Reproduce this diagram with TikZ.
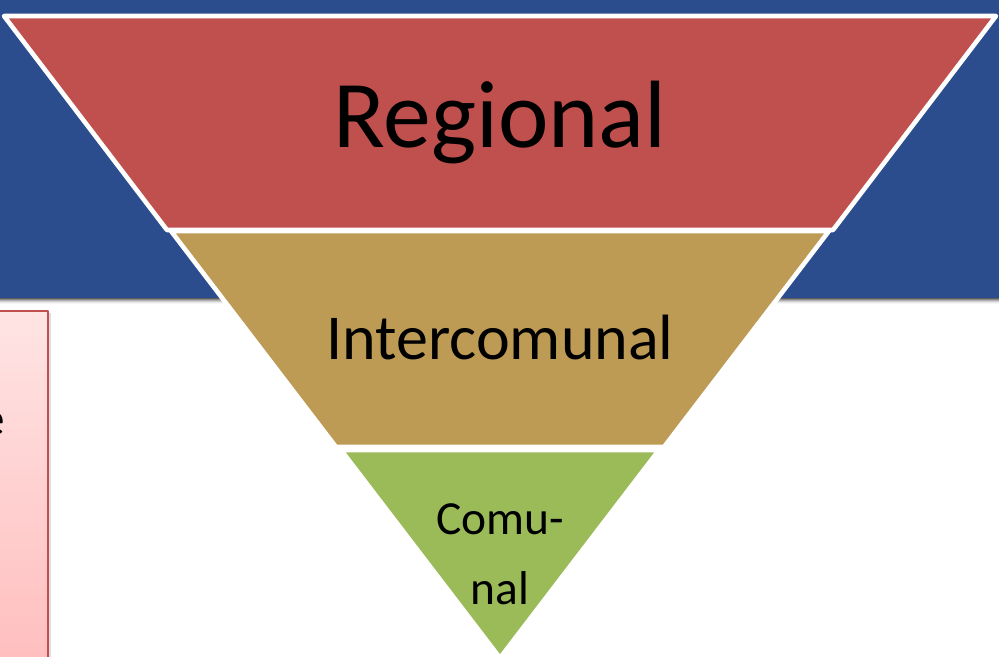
\documentclass[tikz,border=0pt]{standalone}
\usepackage{fontspec}
\setmainfont{Carlito}
\definecolor{bandblue}{RGB}{44,77,141}
\definecolor{regred}{RGB}{192,80,77}
\definecolor{intertan}{RGB}{190,155,84}
\definecolor{comgreen}{RGB}{155,187,89}
\definecolor{boxpinkA}{RGB}{255,228,228}
\definecolor{boxpinkB}{RGB}{255,190,190}
\tikzset{
  level/.style={draw=white, line width=1.3pt, line join=round},
  lbl/.style={text=black, inner sep=0pt}
}
\begin{document}
\begin{tikzpicture}[x=0.01cm, y=-0.01cm, line join=round, line cap=round]
    \def\W{999} \def\H{656} % size in px
    \clip (0,0) rectangle (\W,\H);
    \fill[white] (0,0) rectangle (\W,\H);
    % band and its shadow
    \foreach \i/\o in {1/0.30,2/0.22,3/0.15,4/0.10,5/0.06,6/0.03}
        \fill[black,opacity=\o] (0,298) rectangle (\W,298+\i);
    \fill[bandblue] (0,0) rectangle (\W,298);
    % left box
    \fill[black!25,opacity=0.5] (-10,313) rectangle (51,\H+10);
    \shade[top color=boxpinkA, bottom color=boxpinkB, draw=regred, line width=0.5pt]
        (-10,311) rectangle (48,\H+10);
    \node[lbl, anchor=east, font=\fontsize{14}{16}\selectfont] (boxtxt) at (6,424) {e};
    % the levels
    \filldraw[level, fill=regred] (4,16) -- (996,16) -- (833,230) -- (167,230) -- cycle;
    \filldraw[level, fill=intertan] (171,231) -- (829,231) -- (664,447) -- (336,447) -- cycle;
    \filldraw[level, fill=comgreen] (341,450) -- (659,450) -- (500,658) -- cycle;
    % labels
    \node[lbl, font=\fontsize{27.2}{30}\selectfont] (regional) at (500,122) {Regional};
    \node[lbl, font=\fontsize{18.2}{21}\selectfont] (intercom) at (500,337) {Intercomunal};
    \node[lbl, font=\fontsize{13.5}{16}\selectfont, align=center] (comunal) at (500,554)
        {Comu-\\[4pt]nal};
\end{tikzpicture}
\end{document}
